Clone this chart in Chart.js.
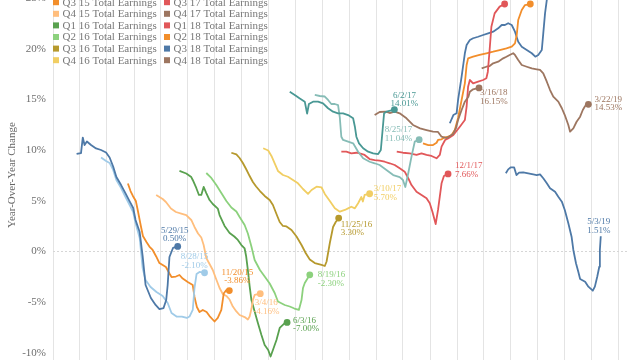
<!DOCTYPE html>
<html><head><meta charset="utf-8">
<script src="https://cdn.jsdelivr.net/npm/chart.js@4.4.1/dist/chart.umd.min.js"></script>
<style>
html,body{margin:0;padding:0;background:#fff;overflow:hidden;width:640px;height:360px}
#wrap{position:absolute;left:0;top:-20px;width:640px;height:390px}
</style></head><body>
<div id="wrap"><canvas id="c"></canvas></div>
<script>
// ---------- DATA ----------
const seriesNames = ['Q1 15','Q2 15','Q3 15','Q4 15','Q1 16','Q2 16','Q3 16','Q4 16',
  'Q1 17','Q2 17','Q3 17','Q4 17','Q1 18','Q2 18','Q3 18','Q4 18','Q1 19'];
const yTickValues = [-10,-5,0,5,10,15,20,25];

const q1_15_dates = ['2014-06-20','2014-07-05','2014-07-11','2014-07-17','2014-07-25','2014-08-08','2014-08-25','2014-09-11','2014-09-28','2014-10-10','2014-10-22','2014-11-02','2014-11-18','2014-12-03','2014-12-17','2014-12-29','2015-01-06','2015-01-20','2015-01-30','2015-02-09','2015-02-27','2015-03-15','2015-03-28','2015-04-11','2015-04-20','2015-04-25','2015-05-01','2015-05-13','2015-05-29'];
const q1_15_vals = [9.63,9.72,11.25,10.51,10.86,10.51,10.17,10.02,9.77,9.28,8.39,7.35,6.56,5.73,4.94,4.29,3.11,1.92,-0.44,-3.31,-4.59,-5.28,-5.68,-5.58,-4.79,-3.31,-0.54,0.35,0.50];

const q2_15_dates = ['2014-09-11','2014-09-28','2014-10-10','2014-10-22','2014-11-02','2014-11-18','2014-12-03','2014-12-17','2014-12-29','2015-01-06','2015-01-20','2015-01-30','2015-02-09','2015-02-26','2015-03-18','2015-04-08','2015-04-25','2015-05-08','2015-05-25','2015-06-12','2015-06-29','2015-07-08','2015-07-19','2015-07-25','2015-08-01','2015-08-11','2015-08-28'];
const q2_15_vals = [9.28,8.93,8.74,8.05,7.06,6.27,5.38,4.59,3.90,2.81,1.33,-1.63,-2.81,-3.50,-4.00,-4.39,-5.08,-6.07,-6.42,-6.42,-6.56,-6.42,-5.77,-3.60,-2.22,-2.02,-2.10];

const q3_15_dates = ['2014-12-11','2014-12-20','2014-12-28','2015-01-07','2015-01-14','2015-01-24','2015-01-31','2015-02-12','2015-02-22','2015-03-05','2015-03-17','2015-03-28','2015-04-08','2015-04-19','2015-05-01','2015-05-08','2015-05-23','2015-06-04','2015-06-15','2015-07-02','2015-07-19','2015-07-25','2015-08-02','2015-08-11','2015-08-22','2015-09-04','2015-09-14','2015-10-01','2015-10-12','2015-10-24','2015-11-01','2015-11-10','2015-11-20'];
const q3_15_vals = [6.71,5.97,5.48,4.99,4.00,2.52,1.53,0.94,0.49,0.15,-0.49,-1.14,-1.33,-1.53,-2.17,-2.52,-2.47,-2.32,-2.67,-3.01,-3.31,-4.49,-5.48,-5.97,-5.77,-5.97,-6.37,-6.91,-6.56,-5.77,-4.15,-3.80,-3.86];

const q4_15_dates = ['2015-03-17','2015-03-28','2015-04-08','2015-04-19','2015-05-06','2015-05-23','2015-06-10','2015-06-27','2015-07-14','2015-07-25','2015-08-06','2015-08-17','2015-08-25','2015-09-03','2015-09-14','2015-09-25','2015-10-05','2015-10-18','2015-10-29','2015-11-10','2015-11-21','2015-12-02','2015-12-14','2015-12-25','2016-01-11','2016-01-22','2016-01-28','2016-02-03','2016-02-08','2016-02-14','2016-03-04'];
const q4_15_vals = [5.58,5.38,5.18,4.89,4.24,3.90,3.75,3.60,3.11,2.42,1.78,1.38,0.64,-0.64,-1.23,-1.83,-2.62,-3.60,-4.20,-4.39,-4.74,-5.43,-5.92,-6.27,-6.47,-6.71,-6.42,-5.68,-4.79,-4.29,-4.16];

const q1_16_dates = ['2015-06-04','2015-06-27','2015-07-14','2015-07-19','2015-07-31','2015-08-09','2015-08-17','2015-08-25','2015-09-03','2015-09-14','2015-09-25','2015-10-12','2015-10-18','2015-11-04','2015-11-21','2015-12-07','2015-12-19','2015-12-31','2016-01-11','2016-01-16','2016-01-22','2016-01-28','2016-02-03','2016-02-14','2016-02-25','2016-03-08','2016-03-19','2016-03-31','2016-04-08','2016-04-16','2016-04-28','2016-05-09','2016-05-26','2016-06-03'];
const q1_16_vals = [7.95,7.70,7.35,7.06,6.27,5.58,5.58,6.37,5.77,5.08,4.69,4.24,3.60,2.52,1.83,1.48,1.14,0.64,0.30,-0.44,-1.83,-3.41,-4.79,-5.92,-7.06,-8.24,-9.23,-9.72,-10.37,-9.72,-8.74,-7.55,-7.06,-7.00];

const q2_16_dates = ['2015-09-03','2015-09-20','2015-10-07','2015-10-24','2015-11-10','2015-11-27','2015-12-14','2015-12-25','2016-01-11','2016-01-22','2016-02-03','2016-02-14','2016-03-03','2016-03-19','2016-04-05','2016-04-22','2016-05-03','2016-05-26','2016-06-12','2016-06-28','2016-07-13','2016-07-22','2016-07-27','2016-08-02','2016-08-19'];
const q2_16_vals = [7.75,7.26,6.56,5.77,4.99,4.34,3.95,3.41,2.62,1.78,0.49,-0.84,-1.83,-2.47,-3.16,-4.10,-4.94,-5.28,-5.43,-5.63,-5.77,-4.79,-3.60,-3.11,-2.30];

const q3_16_dates = ['2015-11-27','2015-12-14','2015-12-25','2016-01-05','2016-01-16','2016-01-28','2016-02-08','2016-02-19','2016-03-03','2016-03-19','2016-04-05','2016-04-16','2016-04-28','2016-05-09','2016-05-20','2016-06-01','2016-06-18','2016-07-05','2016-07-22','2016-08-05','2016-08-19','2016-09-05','2016-09-28','2016-10-09','2016-10-15','2016-10-26','2016-11-06','2016-11-15','2016-11-25'];
const q3_16_vals = [9.75,9.58,9.23,8.74,8.14,7.45,6.86,6.42,5.97,5.48,5.08,4.59,3.70,2.91,2.52,2.47,2.12,1.48,0.64,-0.15,-0.79,-1.14,-1.33,-1.43,-0.99,0.84,2.42,2.91,3.30];

const q4_16_dates = ['2016-03-14','2016-03-31','2016-04-11','2016-04-22','2016-05-03','2016-05-20','2016-06-06','2016-06-23','2016-07-10','2016-07-27','2016-08-13','2016-08-25','2016-09-11','2016-09-28','2016-10-09','2016-10-26','2016-11-12','2016-11-29','2016-12-16','2016-12-27','2017-01-07','2017-01-19','2017-01-30','2017-02-10','2017-02-15','2017-02-21','2017-03-10'];
const q4_16_vals = [10.19,9.97,9.43,8.69,7.95,7.55,7.38,7.06,6.73,6.17,5.68,6.07,6.40,6.32,5.68,4.99,4.26,3.93,4.10,4.26,4.42,4.26,4.76,5.38,4.94,5.58,5.70];

const q1_17_dates = ['2016-06-12','2016-06-29','2016-07-15','2016-08-02','2016-08-10','2016-08-16','2016-08-30','2016-09-16','2016-10-03','2016-10-20','2016-11-06','2016-11-23','2016-12-10','2016-12-27','2017-01-13','2017-01-19','2017-01-24','2017-02-02','2017-02-16','2017-03-05','2017-03-22','2017-04-08','2017-04-17','2017-04-23','2017-04-28','2017-05-06','2017-06-02'];
const q1_17_vals = [15.77,15.45,15.12,14.79,13.62,14.56,14.79,14.79,14.63,14.14,13.80,13.64,13.64,13.47,13.15,12.32,11.33,10.68,10.19,9.85,9.69,9.62,10.02,11.99,13.64,13.80,14.01];

const q2_17_dates = ['2016-09-05','2016-09-22','2016-10-09','2016-10-20','2016-10-31','2016-11-12','2016-11-23','2016-11-29','2016-12-04','2016-12-10','2016-12-27','2017-01-13','2017-01-30','2017-02-16','2017-03-10','2017-03-27','2017-04-13','2017-05-06','2017-05-29','2017-06-20','2017-07-01','2017-07-09','2017-07-19','2017-07-30','2017-08-10','2017-08-25'];
const q2_17_vals = [15.45,15.35,15.30,14.96,14.56,14.56,14.46,13.18,11.33,11.01,10.84,10.68,9.85,9.20,8.86,8.71,8.54,8.05,7.55,7.35,7.06,6.37,7.72,9.36,10.84,11.04];

const q3_17_dates = ['2016-12-04','2016-12-21','2017-01-07','2017-01-24','2017-02-04','2017-02-21','2017-03-10','2017-03-27','2017-04-13','2017-04-30','2017-05-17','2017-06-03','2017-06-20','2017-07-07','2017-07-19','2017-07-30','2017-08-16','2017-09-02','2017-09-19','2017-09-30','2017-10-09','2017-10-20','2017-10-28','2017-11-03','2017-11-09','2017-11-17','2017-12-01'];
const q3_17_vals = [9.85,9.85,9.69,9.75,9.69,9.53,9.13,9.03,8.98,8.86,8.71,8.54,8.21,7.88,7.23,6.56,5.90,5.58,5.25,4.76,3.93,2.71,4.10,5.41,6.73,7.45,7.66];

const q4_17_dates = ['2017-03-27','2017-04-13','2017-05-04','2017-05-17','2017-06-03','2017-06-20','2017-07-13','2017-08-04','2017-08-28','2017-09-19','2017-10-11','2017-10-28','2017-11-09','2017-11-26','2017-12-07','2017-12-18','2017-12-28','2018-01-04','2018-01-16','2018-01-27','2018-02-08','2018-02-13','2018-02-24','2018-03-09','2018-03-16'];
const q4_17_vals = [13.47,13.77,13.80,13.67,13.80,13.64,13.15,12.49,12.16,11.99,11.83,11.80,11.33,11.20,11.40,11.60,12.19,12.98,13.97,14.79,15.28,15.77,16.01,16.11,16.15];

const q1_18_dates = ['2017-06-10','2017-07-01','2017-07-24','2017-08-16','2017-09-02','2017-09-19','2017-10-06','2017-10-23','2017-11-03','2017-11-09','2017-11-21','2017-12-01','2017-12-19','2018-01-10','2018-01-27','2018-02-02','2018-02-07','2018-02-13','2018-02-24','2018-03-13','2018-03-30','2018-04-10','2018-04-15','2018-04-21','2018-04-27','2018-05-08','2018-05-25','2018-06-11'];
const q1_18_vals = [9.85,9.75,9.69,9.53,9.69,9.53,9.43,9.20,9.53,10.35,11.01,11.15,11.50,12.32,12.98,14.29,16.27,16.93,16.60,16.76,16.93,17.10,17.75,19.89,22.19,23.51,24.17,24.43];

const q2_18_dates = ['2017-09-07','2017-09-25','2017-10-11','2017-10-23','2017-10-28','2017-11-09','2017-11-20','2017-12-02','2017-12-13','2017-12-24','2018-01-04','2018-01-16','2018-01-27','2018-02-02','2018-02-07','2018-02-24','2018-03-18','2018-04-10','2018-05-03','2018-05-25','2018-06-17','2018-07-05','2018-07-16','2018-07-22','2018-07-27','2018-08-08','2018-08-19','2018-09-06'];
const q2_18_vals = [10.68,10.51,10.51,10.74,11.01,11.08,11.27,11.33,11.50,11.99,13.18,14.96,16.60,18.41,19.07,19.23,19.40,19.57,19.72,19.89,20.06,20.22,20.55,21.37,22.85,23.84,24.33,24.43];

const q3_18_dates = ['2017-12-07','2017-12-19','2017-12-30','2018-01-04','2018-01-16','2018-01-27','2018-02-02','2018-02-13','2018-02-24','2018-03-13','2018-03-30','2018-04-16','2018-05-03','2018-05-20','2018-06-01','2018-06-12','2018-06-23','2018-07-05','2018-07-16','2018-07-27','2018-08-08','2018-08-25','2018-09-11','2018-09-23','2018-10-03','2018-10-15','2018-10-20','2018-10-26','2018-11-01','2018-11-12'];
const q3_18_vals = [12.66,13.47,13.64,14.96,17.26,19.57,20.39,20.88,21.05,21.20,21.37,21.54,21.70,22.03,22.36,22.36,22.53,22.36,21.70,20.71,20.22,19.89,19.57,19.23,19.40,19.89,21.54,23.51,24.83,27.50];

const q4_18_dates = ['2018-03-25','2018-04-10','2018-04-21','2018-05-03','2018-05-20','2018-06-06','2018-06-17','2018-06-28','2018-07-10','2018-07-16','2018-07-27','2018-08-08','2018-08-25','2018-09-11','2018-09-28','2018-10-09','2018-10-20','2018-11-01','2018-11-12','2018-11-23','2018-12-10','2018-12-22','2019-01-01','2019-01-13','2019-01-19','2019-01-30','2019-02-10','2019-02-22','2019-03-03','2019-03-11','2019-03-22'];
const q4_18_vals = [18.08,18.24,18.31,18.58,18.74,19.07,19.23,19.40,19.57,19.40,18.90,18.41,18.24,18.08,17.99,17.92,17.59,16.76,15.94,15.28,14.79,14.14,13.47,12.49,11.83,12.16,12.81,13.31,13.97,14.36,14.53];

const q1_19_dates = ['2018-06-15','2018-06-23','2018-07-02','2018-07-13','2018-07-21','2018-07-30','2018-08-13','2018-08-30','2018-09-16','2018-09-28','2018-10-09','2018-10-20','2018-11-01','2018-11-12','2018-11-29','2018-12-10','2018-12-22','2019-01-01','2019-01-13','2019-01-24','2019-01-30','2019-02-08','2019-02-16','2019-02-22','2019-03-11','2019-03-22','2019-04-06','2019-04-13','2019-04-21','2019-04-28','2019-04-30','2019-05-03'];
const q1_19_vals = [7.72,8.11,8.31,8.31,7.55,7.78,7.82,7.72,7.62,7.55,7.62,7.23,6.73,6.24,5.90,5.41,4.92,4.10,2.78,1.46,0.15,-1.16,-2.02,-2.71,-2.98,-3.47,-3.87,-3.47,-2.49,-1.50,0.15,1.51];

const seriesDates = [q1_15_dates,q2_15_dates,q3_15_dates,q4_15_dates,q1_16_dates,q2_16_dates,q3_16_dates,q4_16_dates,q1_17_dates,q2_17_dates,q3_17_dates,q4_17_dates,q1_18_dates,q2_18_dates,q3_18_dates,q4_18_dates,q1_19_dates];
const seriesVals = [q1_15_vals,q2_15_vals,q3_15_vals,q4_15_vals,q1_16_vals,q2_16_vals,q3_16_vals,q4_16_vals,q1_17_vals,q2_17_vals,q3_17_vals,q4_17_vals,q1_18_vals,q2_18_vals,q3_18_vals,q4_18_vals,q1_19_vals];

// ---------- STYLE / LAYOUT ----------
const seriesColors = ['#4e79a7','#a0cbe8','#f28e2b','#ffbe7d','#59a14f','#8cd17d','#b6992d','#f1ce63',
  '#499894','#86bcb6','#e15759','#9d7660','#e15759','#f28e2b','#4e79a7','#9d7660','#4e79a7'];
const endDot = [1,1,1,1,1,1,1,1,1,1,1,1,1,1,1,1,0];
// label placement: [align, dx, dy] relative to end point
const labelPlace = [
  ['center',-3,-16],['center',-10,-16],['center',8,-18],['center',6,9],
  ['left',6,-2],['left',8,0],['left',2,6.5],['left',4,-5],
  ['center',10,-14],['right',-7,-10],['left',7,-8],['left',1,5],
  ['center',0,-24],['center',0,-24],['center',0,-24],['left',6,-5],['center',-2,-14.5]
];
// legend slots: [column, row]
const legendSlot = [[0,0],[0,1],[0,2],[0,3],[0,4],[0,5],[0,6],[0,7],
  [1,0],[1,1],[1,2],[1,3],[1,4],[1,5],[1,6],[1,7],[2,0]];
const WRAP_TOP = -20;       // page offset of the canvas
const ZERO_PAGE_Y = 251.5;  // where 0% sits in the window
const PX_PER_PCT = 10.13;   // vertical scale

const SERIF = '"Liberation Serif", "DejaVu Serif", serif';
const parseDate = s => { const p = s.split('-').map(Number); return Date.UTC(p[0], p[1]-1, p[2]); };
const fmtDate = s => { const p = s.split('-').map(Number); return p[1] + '/' + p[2] + '/' + String(p[0]).slice(2); };

const datasets = seriesNames.map((name, i) => {
  const dts = seriesDates[i], vals = seriesVals[i], last = vals.length - 1;
  return {
    label: name + ' Total Earnings',
    data: dts.map((d, k) => ({x: parseDate(d), y: vals[k]})),
    borderColor: seriesColors[i],
    backgroundColor: seriesColors[i],
    borderWidth: 1.8,
    tension: 0,
    borderJoinStyle: 'round',
    pointRadius: ctx => (ctx.dataIndex === last && endDot[i]) ? 3.4 : 0,
    pointHoverRadius: 0,
    pointBorderWidth: 0,
    fill: false
  };
});

const X_MIN = Date.UTC(2014,3,1), X_MAX = Date.UTC(2019,6,31);

const legendPlugin = {
  id: 'twoColLegend',
  afterDraw(chart) {
    const ctx = chart.ctx, ca = chart.chartArea;
    ctx.save();
    ctx.font = '11px ' + SERIF;
    ctx.textBaseline = 'middle';
    ctx.textAlign = 'left';
    const colX = [ca.left, ca.left + 111, ca.left + 222];
    const row0 = -1.0, rowH = 11.6;
    chart.data.datasets.forEach((ds, i) => {
      const [c, r] = legendSlot[i];
      const x = colX[c], y = row0 + r * rowH;
      ctx.fillStyle = seriesColors[i];
      ctx.fillRect(x, y - 3, 6, 6);
      ctx.fillStyle = '#777';
      ctx.fillText(ds.label, x + 9.5, y + 0.5);
    });
    ctx.restore();
  }
};

const endLabelPlugin = {
  id: 'endLabels',
  afterDatasetsDraw(chart) {
    const ctx = chart.ctx;
    ctx.save();
    ctx.font = '9px ' + SERIF;
    ctx.textBaseline = 'middle';
    chart.data.datasets.forEach((ds, i) => {
      const meta = chart.getDatasetMeta(i);
      const last = meta.data.length - 1;
      const pt = meta.data[last];
      const dts = seriesDates[i], vals = seriesVals[i];
      const [align, dx, dy] = labelPlace[i];
      ctx.textAlign = align;
      ctx.fillStyle = seriesColors[i];
      ctx.fillText(fmtDate(dts[dts.length-1]), pt.x + dx, pt.y + dy);
      ctx.fillText(vals[vals.length-1].toFixed(2) + '%', pt.x + dx, pt.y + dy + 8.5);
    });
    ctx.restore();
  }
};

const chart = new Chart(document.getElementById('c'), {
  type: 'line',
  data: { datasets },
  options: {
    responsive: true,
    maintainAspectRatio: false,
    animation: false,
    events: [],
    layout: { padding: { left: 0, right: 13, top: 0, bottom: 0 } },
    plugins: { legend: { display: false }, tooltip: { enabled: false }, title: { display: false } },
    scales: {
      x: {
        type: 'linear',
        min: X_MIN, max: X_MAX,
        afterBuildTicks(scale) {
          const t = [];
          for (let y = 2014; y <= 2019; y++) for (let m = 0; m < 12; m += 3) {
            const v = Date.UTC(y, m, 1);
            if (v >= X_MIN && v <= X_MAX) t.push({ value: v });
          }
          scale.ticks = t;
        },
        afterFit(scale) { scale.height = 0; scale.paddingLeft = 0; scale.paddingRight = 0; scale.paddingTop = 0; scale.paddingBottom = 0; },
        ticks: { display: false },
        grid: { color: '#e4e4e4', lineWidth: 1, drawTicks: false },
        border: { display: false }
      },
      y: {
        type: 'linear',
        min: -11.2, max: 26.8,
        afterBuildTicks(scale) { scale.ticks = yTickValues.map(v => ({ value: v })); },
        afterFit(scale) { scale.width = 53; scale.paddingTop = 0; scale.paddingBottom = 0; scale.paddingLeft = 0; scale.paddingRight = 0; },
        ticks: {
          padding: 7,
          color: '#6e6e6e',
          font: { family: SERIF, size: 11 },
          callback: v => v + '%'
        },
        grid: {
          drawTicks: false,
          color: ctx => (ctx.tick && ctx.tick.value === 0) ? '#d6d6d6' : 'rgba(0,0,0,0)',
          lineWidth: 1
        },
        border: { display: false, dash: [2, 2] },
        title: {
          display: true,
          text: 'Year-Over-Year Change',
          color: '#666',
          font: { family: SERIF, size: 11 },
          padding: { top: 6, bottom: 0 }
        }
      }
    }
  },
  plugins: [legendPlugin, endLabelPlugin]
});

// fit the value range to the actual plot area so 0% and the scale land where the window needs them
const ca = chart.chartArea;
chart.options.scales.y.max = (ZERO_PAGE_Y - (ca.top + WRAP_TOP)) / PX_PER_PCT;
chart.options.scales.y.min = (ZERO_PAGE_Y - (ca.bottom + WRAP_TOP)) / PX_PER_PCT;
chart.update('none');
</script>
</body></html>
